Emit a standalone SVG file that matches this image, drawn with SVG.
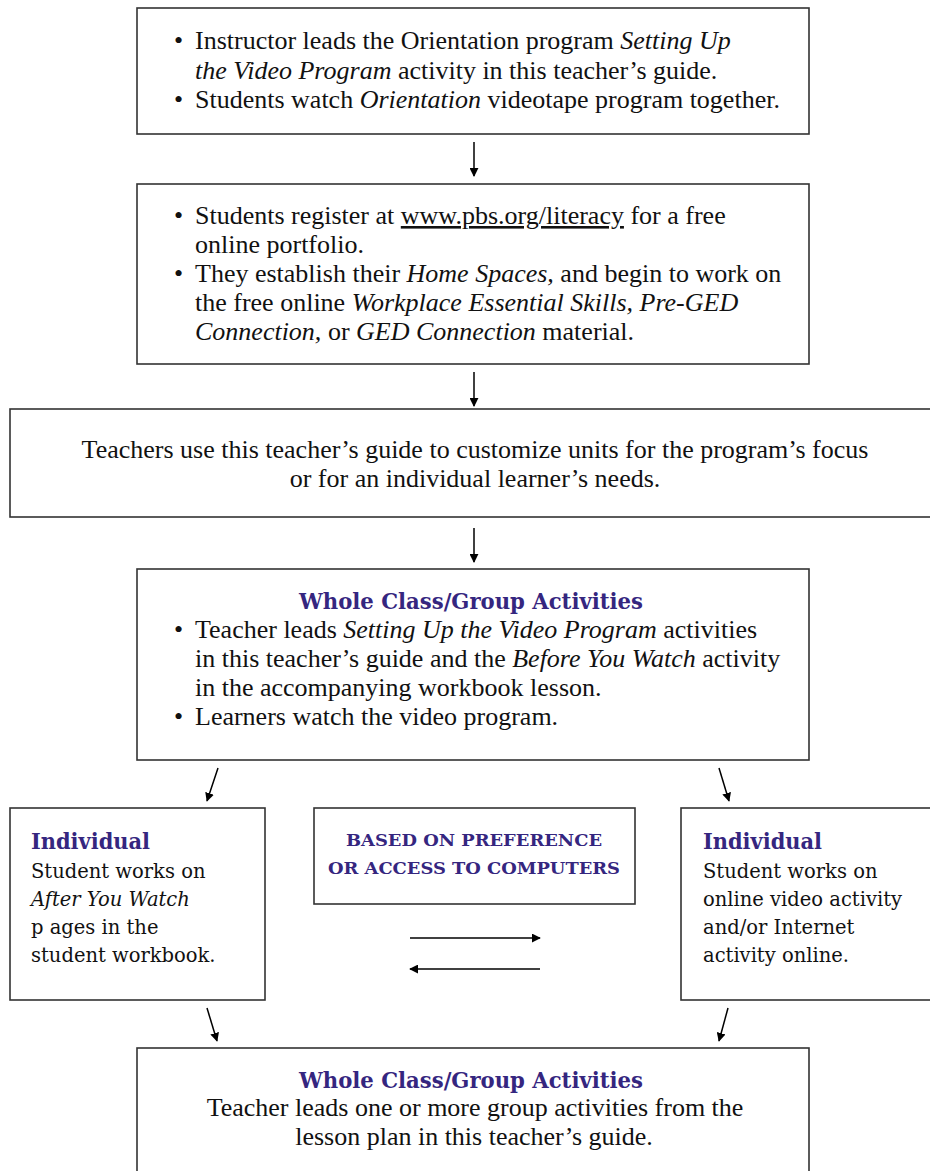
<svg xmlns="http://www.w3.org/2000/svg" width="930" height="1171" viewBox="0 0 930 1171">
<defs>
<marker id="ah" viewBox="0 0 10 10" refX="9" refY="5" markerWidth="9" markerHeight="9" markerUnits="userSpaceOnUse" orient="auto">
<path d="M0,0 L10,5 L0,10 z" fill="#000"/>
</marker>
<style>
.box{fill:#fff;stroke:#333;stroke-width:1.6}
.t{font-family:"Liberation Serif","Times New Roman",serif;font-size:26px;fill:#111}
.s{font-family:"DejaVu Serif",serif;font-size:19.5px;fill:#111}
.h{font-family:"DejaVu Serif",serif;font-weight:bold;fill:#35267f}
.i{font-style:italic}
.c{text-anchor:middle}
.con{stroke:#000;stroke-width:1.5;fill:none;marker-end:url(#ah)}
</style>
</defs>
<rect width="930" height="1171" fill="#fff"/>

<g id="n1">
<rect class="box" x="137" y="8" width="672" height="126"/>
<text class="t" x="174" y="49">•</text>
<text class="t" x="195" y="49">Instructor leads the Orientation program <tspan class="i">Setting Up</tspan></text>
<text class="t" x="195" y="79"><tspan class="i">the Video Program</tspan> activity in this teacher’s guide.</text>
<text class="t" x="174" y="108">•</text>
<text class="t" x="195" y="108">Students watch <tspan class="i">Orientation</tspan> videotape program together.</text>
</g>

<g id="n2">
<rect class="box" x="137" y="184" width="672" height="180"/>
<text class="t" x="174" y="224">•</text>
<text class="t" x="195" y="224">Students register at <tspan text-decoration="underline">www.pbs.org/literacy</tspan> for a free</text>
<text class="t" x="195" y="253">online portfolio.</text>
<text class="t" x="174" y="282">•</text>
<text class="t" x="195" y="282">They establish their <tspan class="i">Home Spaces,</tspan> and begin to work on</text>
<text class="t" x="195" y="311">the free online <tspan class="i">Workplace Essential Skills, Pre-GED</tspan></text>
<text class="t" x="195" y="340"><tspan class="i">Connection,</tspan> or <tspan class="i">GED Connection</tspan> material.</text>
</g>

<g id="n3">
<rect class="box" x="10" y="409" width="940" height="108"/>
<text class="t c" x="475" y="458">Teachers use this teacher’s guide to customize units for the program’s focus</text>
<text class="t c" x="475" y="487">or for an individual learner’s needs.</text>
</g>

<g id="n4">
<rect class="box" x="137" y="569" width="672" height="191"/>
<text class="h c" x="471" y="609" font-size="22" textLength="344" lengthAdjust="spacingAndGlyphs">Whole Class/Group Activities</text>
<text class="t" x="174" y="638">•</text>
<text class="t" x="195" y="638">Teacher leads <tspan class="i">Setting Up the Video Program</tspan> activities</text>
<text class="t" x="195" y="667">in this teacher’s guide and the <tspan class="i">Before You Watch</tspan> activity</text>
<text class="t" x="195" y="696">in the accompanying workbook lesson.</text>
<text class="t" x="174" y="725">•</text>
<text class="t" x="195" y="725">Learners watch the video program.</text>
</g>

<g id="n5">
<rect class="box" x="10" y="808" width="255" height="192"/>
<text class="h" x="31" y="849" font-size="22" textLength="119" lengthAdjust="spacingAndGlyphs">Individual</text>
<text class="s" x="31" y="878">Student works on</text>
<text class="s i" x="31" y="906">After You Watch</text>
<text class="s" x="31" y="934">p ages in the</text>
<text class="s" x="31" y="962">student workbook.</text>
</g>

<g id="n6">
<rect class="box" x="314" y="808" width="321" height="96"/>
<text class="h c" x="474" y="846" font-size="17.5" textLength="256" lengthAdjust="spacingAndGlyphs">BASED ON PREFERENCE</text>
<text class="h c" x="474" y="874" font-size="17.5" textLength="292" lengthAdjust="spacingAndGlyphs">OR ACCESS TO COMPUTERS</text>
</g>

<g id="n7">
<rect class="box" x="681" y="808" width="270" height="192"/>
<text class="h" x="703" y="849" font-size="22" textLength="119" lengthAdjust="spacingAndGlyphs">Individual</text>
<text class="s" x="703" y="878">Student works on</text>
<text class="s" x="703" y="906">online video activity</text>
<text class="s" x="703" y="934">and/or Internet</text>
<text class="s" x="703" y="962">activity online.</text>
</g>

<g id="n8">
<rect class="box" x="137" y="1048" width="672" height="140"/>
<text class="h c" x="471" y="1088" font-size="22" textLength="344" lengthAdjust="spacingAndGlyphs">Whole Class/Group Activities</text>
<text class="t c" x="475" y="1116">Teacher leads one or more group activities from the</text>
<text class="t c" x="474" y="1145">lesson plan in this teacher’s guide.</text>
</g>

<g id="connectors">
<line class="con" x1="474" y1="142" x2="474" y2="176"/>
<line class="con" x1="474" y1="372" x2="474" y2="406"/>
<line class="con" x1="474" y1="528" x2="474" y2="562"/>
<line class="con" x1="218" y1="768" x2="207" y2="801"/>
<line class="con" x1="719" y1="768" x2="729" y2="801"/>
<line class="con" x1="410" y1="938" x2="540" y2="938"/>
<line class="con" x1="540" y1="969" x2="410" y2="969"/>
<line class="con" x1="207" y1="1008" x2="217" y2="1041"/>
<line class="con" x1="728" y1="1008" x2="719" y2="1041"/>
</g>
</svg>
